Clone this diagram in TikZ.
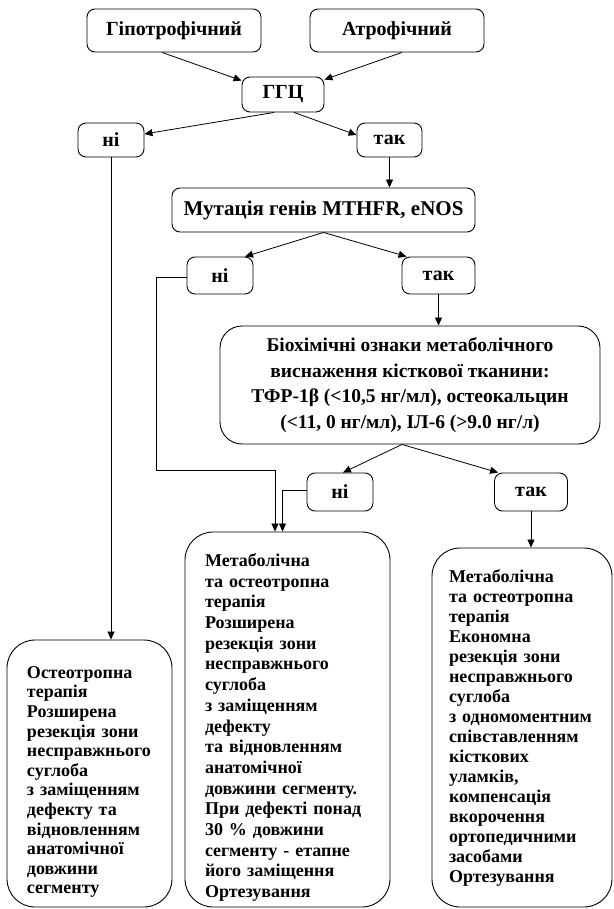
\documentclass[tikz,border=0pt]{standalone}
\usepackage{fontspec}
\setmainfont{Liberation Serif}
\usetikzlibrary{arrows.meta}

\tikzset{
  box/.style={draw, rounded corners=8pt, line width=0.9pt, inner sep=0pt,
    font=\fontsize{20}{20}\selectfont\bfseries},
  bigbox/.style={box, rounded corners=28pt, align=left},
  arr/.style={-{Triangle[length=8pt,width=7pt]}, line width=0.8pt}
}

\begin{document}
\begin{tikzpicture}[x=1pt,y=-1pt]
\useasboundingbox (0,0) rectangle (613,909);

% top row
\node[box, minimum width=174, minimum height=43] (hypo) at (174,30.5) {Гіпотрофічний};
\node[box, minimum width=174, minimum height=43] (atro) at (397,30.5) {Атрофічний};
\node[box, minimum width=82, minimum height=35] (ggc) at (283,94.5) {ГГЦ};
\node[box, minimum width=66, minimum height=34] (no1) at (111,140) {ні};
\node[box, minimum width=65, minimum height=34] (yes1) at (389.5,140) {так};

% genes
\node[box, minimum width=303, minimum height=44,
  font=\fontsize{21}{21}\selectfont\bfseries] (mut) at (323.5,210) {Мутація генів MTHFR, eNOS};
\node[box, minimum width=66, minimum height=37] (no2) at (220,275.5) {ні};
\node[box, minimum width=73, minimum height=37] (yes2) at (438.5,275.5) {так};

% biochemistry
\node[box, rounded corners=22pt, align=center, minimum width=380, minimum height=118,
  font=\fontsize{19.5}{25.7}\selectfont\bfseries] (bio) at (410,385)
  {Біохімічні ознаки метаболічного\\ виснаження кісткової тканини:\\
   ТФР-1β (<10,5 нг/мл), остеокальцин\\ (<11, 0 нг/мл), ІЛ-6 (>9.0 нг/л)};
\node[box, minimum width=66, minimum height=38] (no3) at (340,492) {ні};
\node[box, minimum width=73, minimum height=38] (yes3) at (531,492) {так};

% treatment
\node[bigbox, text width=165, minimum height=267,
  font=\fontsize{18}{19.6}\selectfont\bfseries] (lbox) at (89.5,773.5)
  {\leftskip=20pt\rule{0pt}{29pt}Остеотропна\\ терапія\\ Розширена\\ резекція зони\\ несправжнього\\
   суглоба\\ з заміщенням\\ дефекту та\\ відновленням\\ анатомічної\\ довжини\\ сегменту\par};
\node[bigbox, text width=205, minimum height=375,
  font=\fontsize{18}{20.7}\selectfont\bfseries] (mbox) at (287.5,719.5)
  {\leftskip=20pt\rule{0pt}{29pt}Метаболічна\\ та остеотропна\\ терапія\\ Розширена\\ резекція зони\\
   несправжнього\\ суглоба\\ з заміщенням\\ дефекту\\ та відновленням\\ анатомічної\\
   довжини сегменту.\\ При дефекті понад\\ 30 \% довжини\\ сегменту - етапне\\
   його заміщення\\ Ортезування\par};
\node[bigbox, text width=180, minimum height=359,
  font=\fontsize{18}{20}\selectfont\bfseries] (rbox) at (522,727.5)
  {\leftskip=17pt Метаболічна\\ та остеотропна\\ терапія\\ Економна\\ резекція зони\\
   несправжнього\\ суглоба\\ з одномоментним\\ співставленням\\ кісткових\\ уламків,\\
   компенсація\\ вкорочення\\ ортопедичними\\ засобами\\ Ортезування\par};

% connectors
\draw[arr] ([xshift=-12]hypo.south) -- ([yshift=-4]ggc.north west);
\draw[arr] ([xshift=5]atro.south) -- ([yshift=-3]ggc.north east);
\draw[arr] ([xshift=-9]ggc.south) -- ([yshift=6]no1.east);
\draw[arr] ([xshift=11]ggc.south) -- ([yshift=5]yes1.west);
\draw[arr] (no1.south) -- (no1.south |- lbox.north);
\draw[arr] (yes1.south) -- (yes1.south |- mut.north);
\draw[arr] (mut.south) -- ([xshift=25]no2.north);
\draw[arr] (mut.south) -- ([xshift=5]yes2.north west);
\draw[arr] (yes2.south) -- (yes2.south |- bio.north);
\draw[arr] ([yshift=-2]no2.west) -- ++(-30,0) |- ([xshift=-12.5,yshift=61]mbox.north)
  -- ([xshift=-12.5]mbox.north);
\draw[arr] ([xshift=-8]bio.south) -- ([xshift=3]no3.north);
\draw[arr] ([xshift=-8]bio.south) -- ([xshift=4]yes3.north west);
\draw[arr] ([yshift=2]no3.west) -| ([xshift=-5]mbox.north);
\draw[arr] (yes3.south) -- (yes3.south |- rbox.north);
\end{tikzpicture}
\end{document}
